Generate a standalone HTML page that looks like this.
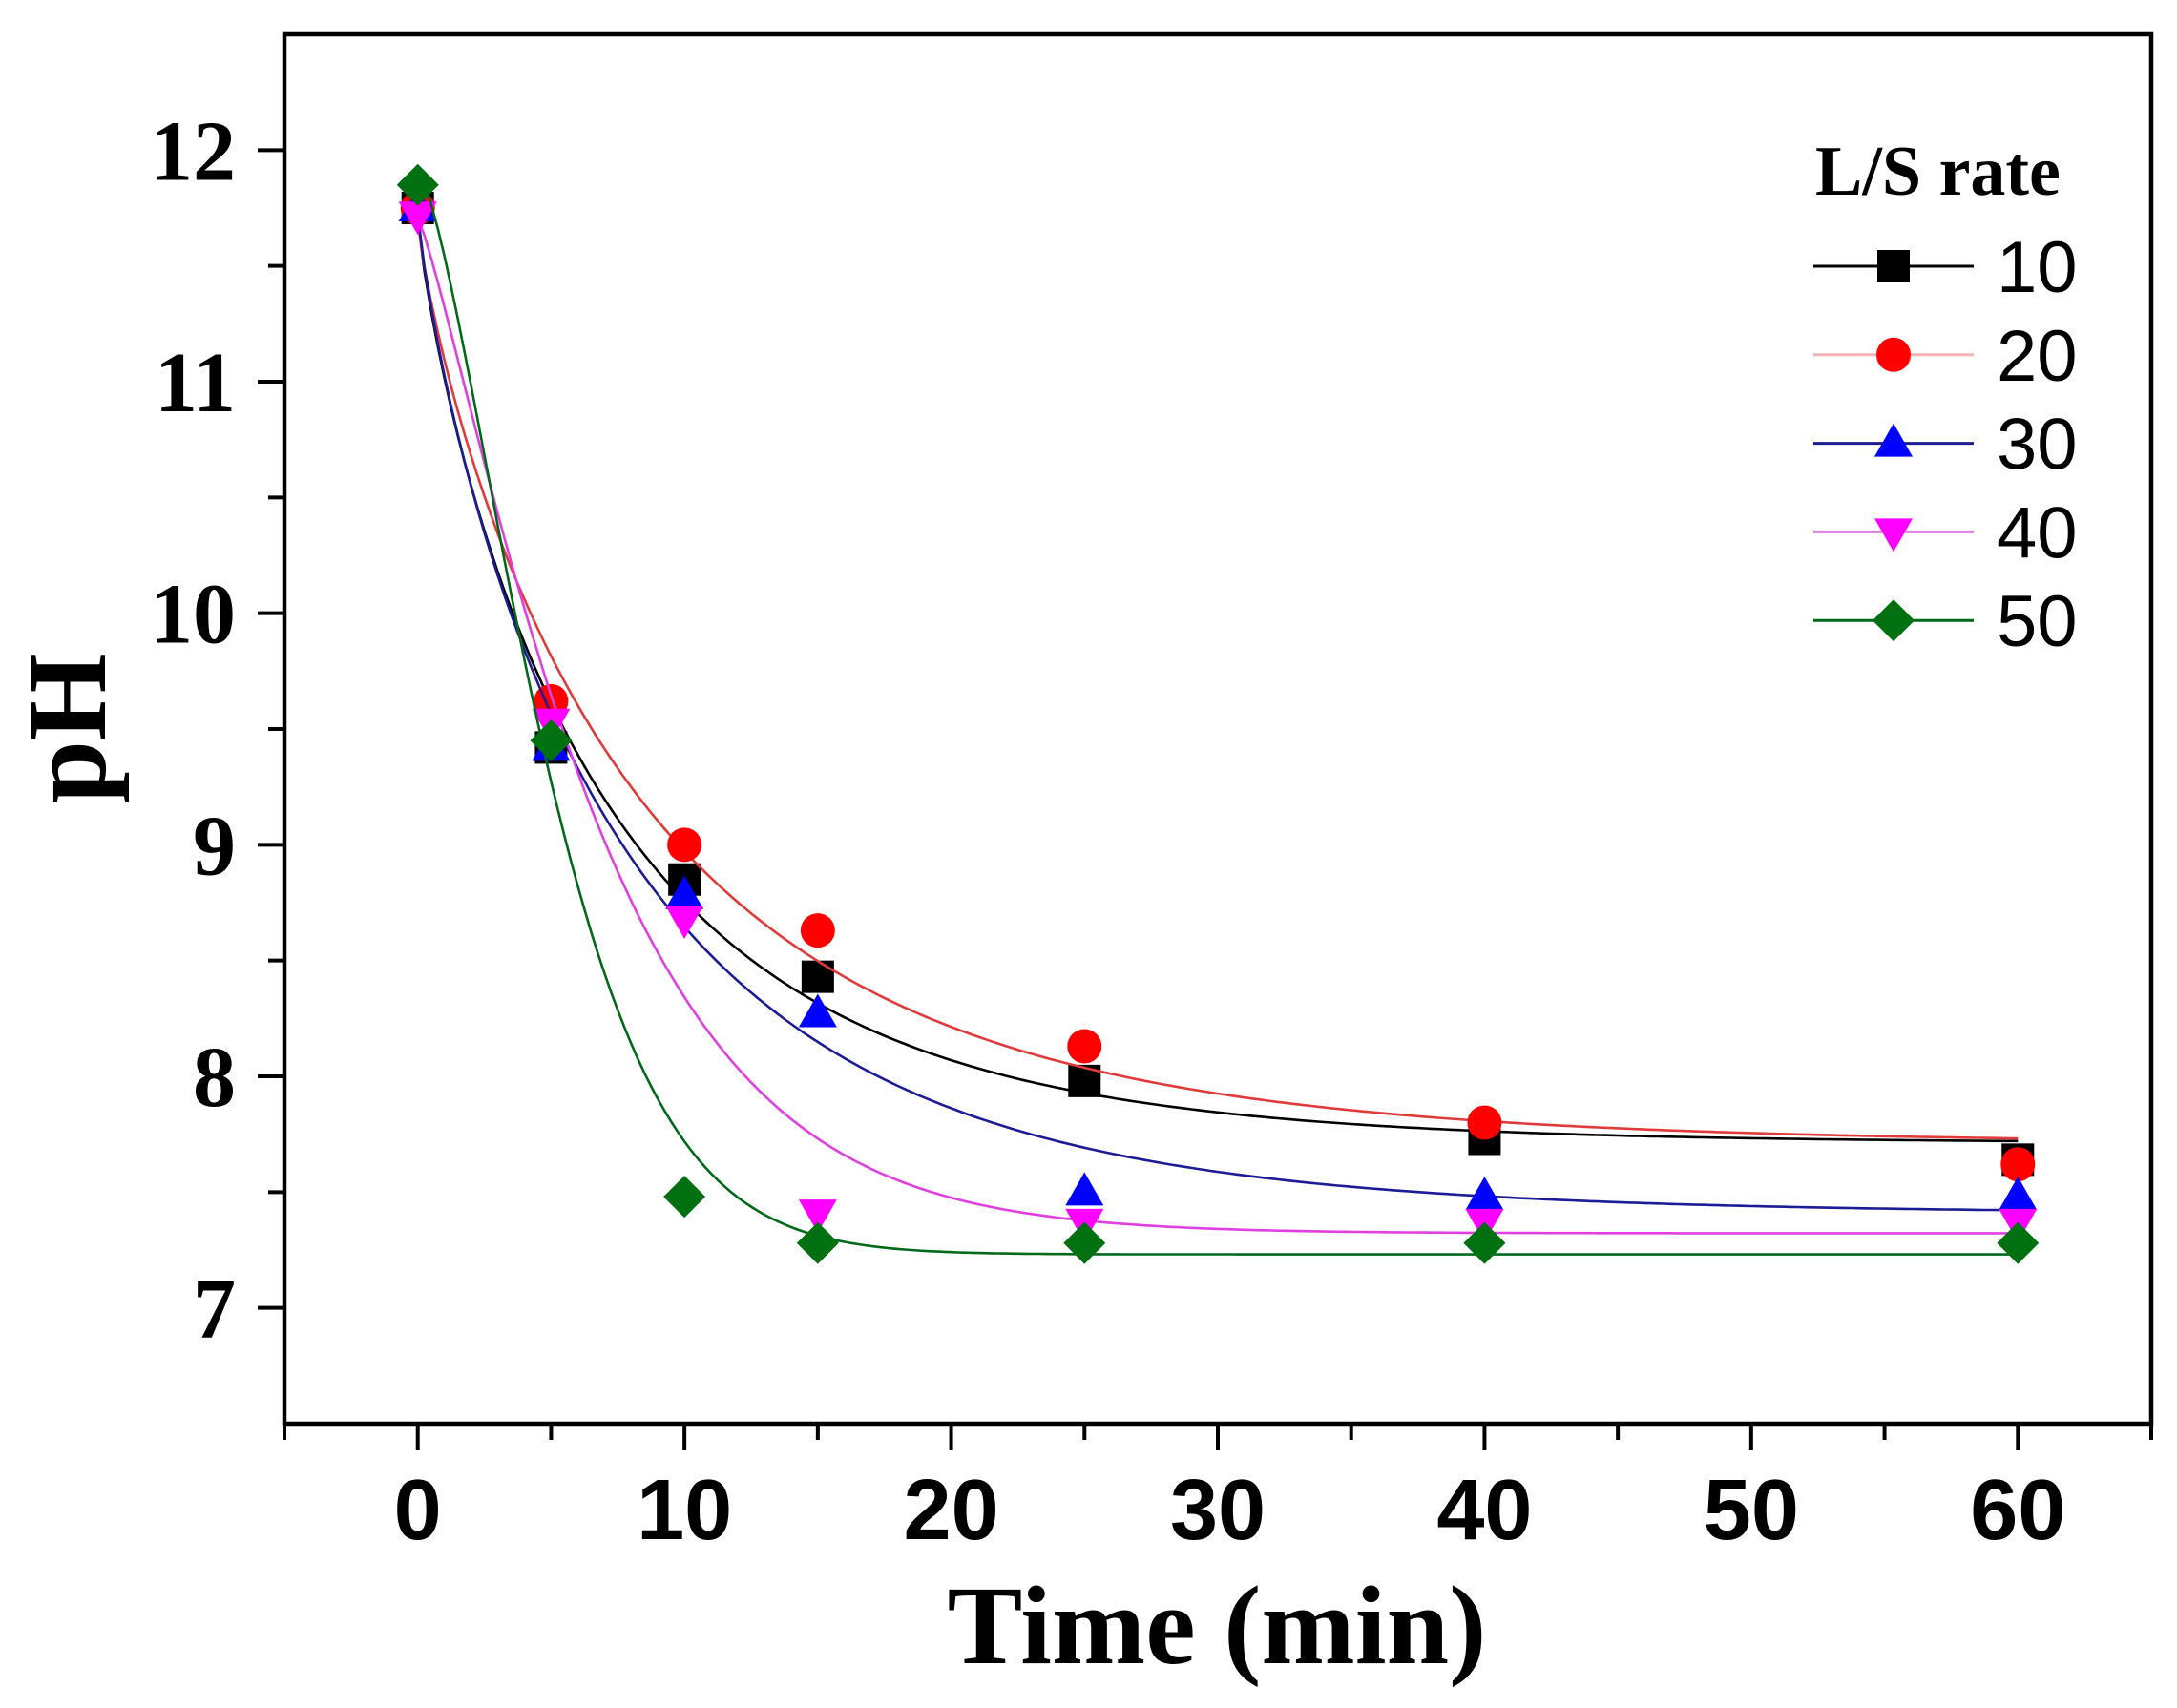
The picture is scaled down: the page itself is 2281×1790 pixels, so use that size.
<!DOCTYPE html>
<html><head><meta charset="utf-8">
<style>
html,body{margin:0;padding:0;background:#fff;}
svg{display:block;}
</style></head>
<body>
<svg id="chart" width="2281" height="1790" viewBox="0 0 2281 1790" xmlns="http://www.w3.org/2000/svg">
<rect width="2281" height="1790" fill="#fff"/>
<g id="plot"></g>
<g id="axes"></g>
<text x="1275" y="1743" text-anchor="middle" font-family="Liberation Serif, serif" font-weight="bold" font-size="118">Time (min)</text>
<text transform="translate(110,763) rotate(-90)" text-anchor="middle" font-family="Liberation Serif, serif" font-weight="bold" font-size="118">pH</text>
<g id="legend"></g>
</svg>
<script>
const times = [0, 5, 10, 15, 25, 40, 60];
const seriesNames = ["10", "20", "30", "40", "50"];
const ph10 = [11.75, 9.42, 8.85, 8.43, 7.98, 7.73, 7.64];
const ph20 = [11.75, 9.62, 9.00, 8.63, 8.13, 7.80, 7.62];
const ph30 = [11.75, 9.42, 8.78, 8.27, 7.50, 7.48, 7.48];
const ph40 = [11.72, 9.53, 8.68, 7.41, 7.37, 7.37, 7.37];
const ph50 = [11.85, 9.45, 7.48, 7.28, 7.28, 7.28, 7.28];
const xTicks = [0, 10, 20, 30, 40, 50, 60];
const yTicks = [7, 8, 9, 10, 11, 12];

const NS = "http://www.w3.org/2000/svg";
const X0 = 298, X1 = 2254, Y0 = 36, Y1 = 1492;
const xMin = -5, xMax = 65, yMin = 6.5, yMax = 12.5;
const sx = v => X0 + (v - xMin) / (xMax - xMin) * (X1 - X0);
const sy = v => Y1 - (v - yMin) / (yMax - yMin) * (Y1 - Y0);

function mk(tag, attrs, parent) {
  const e = document.createElementNS(NS, tag);
  for (const k in attrs) e.setAttribute(k, attrs[k]);
  parent.appendChild(e);
  return e;
}

const styles = [
  {line: "#000000", leg: "#000000", fill: "#000000", shape: "square"},
  {line: "#e03a3a", leg: "#f2b4b4", fill: "#ff0000", shape: "circle"},
  {line: "#1c1c96", leg: "#1c1c96", fill: "#0000ff", shape: "up"},
  {line: "#e040e0", leg: "#e080e0", fill: "#ff00ff", shape: "down"},
  {line: "#006a1a", leg: "#006a1a", fill: "#007010", shape: "diamond"}
];
const allData = [ph10, ph20, ph30, ph40, ph50];

function marker(shape, cx, cy, fill, parent) {
  let e;
  if (shape === "square") e = mk("rect", {x: cx - 17, y: cy - 17, width: 34, height: 34, fill: fill}, parent);
  else if (shape === "circle") e = mk("circle", {cx: cx, cy: cy, r: 18, fill: fill}, parent);
  else if (shape === "up") e = mk("polygon", {points: `${cx},${cy-21} ${cx+20},${cy+14} ${cx-20},${cy+14}`, fill: fill}, parent);
  else if (shape === "down") e = mk("polygon", {points: `${cx},${cy+21} ${cx+20},${cy-14} ${cx-20},${cy-14}`, fill: fill}, parent);
  else e = mk("polygon", {points: `${cx},${cy-22} ${cx+22},${cy} ${cx},${cy+22} ${cx-22},${cy}`, fill: fill}, parent);
  return e;
}

// least-squares fit y = y0 + A*exp(-(t/tau)^p), p constrained
function fit(ts, ys) {
  let best = null;
  const n = ts.length;
  for (let p = 0.85; p <= 1.5; p += 0.05) {
    for (let tau = 0.5; tau <= 40; tau += 0.1) {
      const f = ts.map(t => Math.exp(-Math.pow(t / tau, p)));
      let sf = 0, sff = 0, sy_ = 0, sfy = 0;
      for (let i = 0; i < n; i++) { sf += f[i]; sff += f[i]*f[i]; sy_ += ys[i]; sfy += f[i]*ys[i]; }
      const det = n * sff - sf * sf;
      if (Math.abs(det) < 1e-9) continue;
      const A = (n * sfy - sf * sy_) / det;
      const y0 = (sy_ - A * sf) / n;
      let err = 0;
      for (let i = 0; i < n; i++) { const d = y0 + A*f[i] - ys[i]; err += d*d; }
      if (!best || err < best.err) best = {err, tau, A, y0, p};
    }
  }
  return best;
}

const plot = document.getElementById("plot");
allData.forEach((ys, si) => {
  const st = styles[si];
  const g = mk("g", {}, plot);
  
  
  const f = fit(times, ys);
  let d = "";
  for (let t = times[0]; t <= times[times.length - 1] + 0.001; t += 0.25) {
    const v = f.y0 + f.A * Math.exp(-Math.pow(t / f.tau, f.p));
    d += (d ? "L" : "M") + sx(t).toFixed(1) + "," + sy(v).toFixed(1);
  }
  const path = mk("path", {d: d, fill: "none", stroke: st.line, "stroke-width": 2.6}, g);
  
  
  ys.forEach((v, i) => {
    const m = marker(st.shape, sx(times[i]), sy(v), st.fill, g);
    
    
  });
});

const axes = document.getElementById("axes");
const frame = mk("rect", {x: X0, y: Y0, width: X1 - X0, height: Y1 - Y0, fill: "none", stroke: "#000", "stroke-width": 4.5}, axes);


for (let v = -5; v <= 65; v += 5) {
  const major = v % 10 === 0;
  const t = mk("line", {x1: sx(v), x2: sx(v), y1: Y1, y2: Y1 + (major ? 28 : 17), stroke: "#000", "stroke-width": 4}, axes);
  
  
}
xTicks.forEach(v => {
  const t = mk("text", {x: sx(v), y: 1613, "text-anchor": "middle", "font-family": "Liberation Sans, sans-serif", "font-weight": "bold", "font-size": 90}, axes);
  t.textContent = v;
  
  
});
for (let v = 7; v <= 12; v += 0.5) {
  const major = Number.isInteger(v);
  const t = mk("line", {x1: X0 - (major ? 28 : 17), x2: X0, y1: sy(v), y2: sy(v), stroke: "#000", "stroke-width": 4}, axes);
  
  
}
yTicks.forEach(v => {
  const t = mk("text", {x: 247, y: sy(v) + 31, "text-anchor": "end", "font-family": "Liberation Serif, serif", "font-weight": "bold", "font-size": 90}, axes);
  t.textContent = v;
  
  
});

const legend = document.getElementById("legend");
const lt = mk("text", {x: 1902, y: 204, "font-family": "Liberation Serif, serif", "font-weight": "bold", "font-size": 74}, legend);
lt.textContent = "L/S rate";


seriesNames.forEach((n, i) => {
  const st = styles[i];
  const y = 279 + i * 92.8;
  const g = mk("g", {}, legend);
  
  
  mk("line", {x1: 1900, x2: 2068, y1: y, y2: y, stroke: st.leg, "stroke-width": 3}, g);
  marker(st.shape, 1984, y, st.fill, g);
  const t = mk("text", {x: 2092, y: y + 27, "font-family": "Liberation Sans, sans-serif", "font-size": 76}, g);
  t.textContent = n;
});
</script>
</body></html>
